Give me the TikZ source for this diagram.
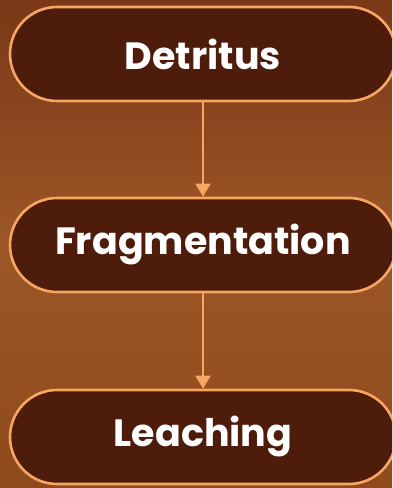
\documentclass[tikz,border=0pt]{standalone}
\usepackage{fontspec}
\setmainfont{Poppins}[UprightFont=* SemiBold, BoldFont=* Bold]
\usetikzlibrary{arrows.meta}
\definecolor{bgtop}{HTML}{7A3817}
\definecolor{bgmid}{HTML}{9C5726}
\definecolor{bgbot}{HTML}{8E4A1D}
\definecolor{boxfill}{HTML}{4E1C0A}
\definecolor{edge}{HTML}{F7A563}
\tikzset{
  stage/.style={draw=edge, line width=2.6pt, fill=boxfill, rounded corners=47pt,
    minimum width=386pt, minimum height=94pt, text=white,
    font=\fontsize{38}{42}\selectfont\bfseries, inner sep=0pt},
  link/.style={draw=edge, line width=2.4pt, -{Triangle[length=13pt,width=15pt]}}
}
\begin{document}
\begin{tikzpicture}[x=1pt,y=1pt]
\useasboundingbox (0,0) rectangle (392,488);
\clip (0,0) rectangle (392,488);
\shade[top color=bgtop, bottom color=bgmid] (0,244) rectangle (392,488);
\shade[top color=bgmid, bottom color=bgbot] (0,0) rectangle (392,244);
\node[stage] (d) at (203,434) {Detritus};
\node[stage] (f) at (203,243) {Fragmentation};
\node[stage] (l) at (203,51) {Leaching};
\draw[link] (d) -- (f);
\draw[link] (f) -- (l);
\end{tikzpicture}
\end{document}
